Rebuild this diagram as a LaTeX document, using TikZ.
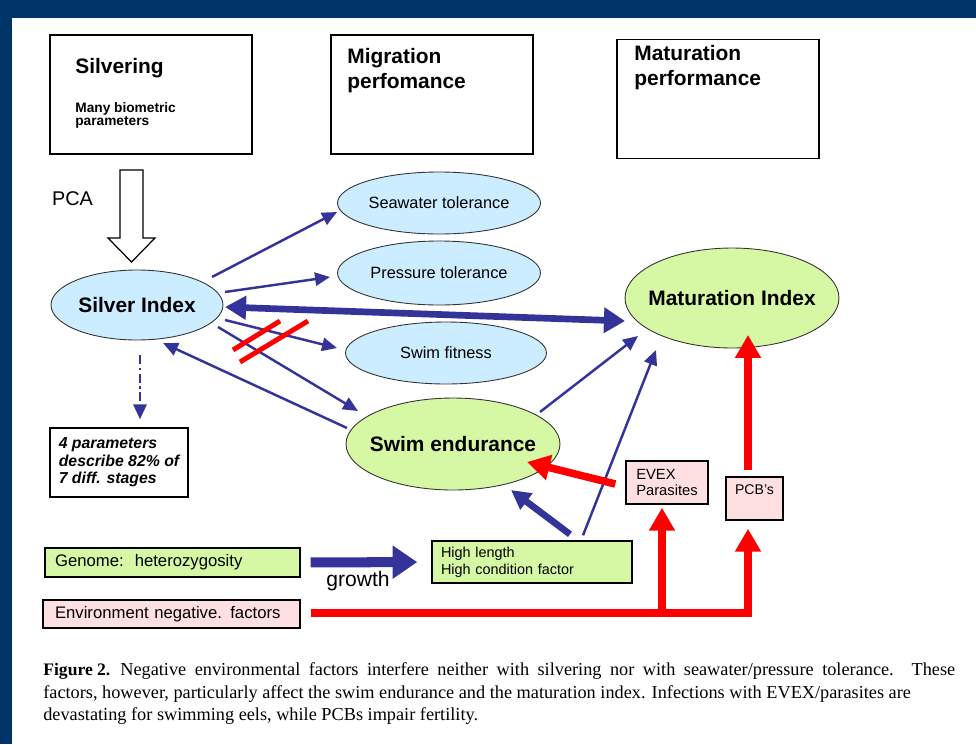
\documentclass[tikz,border=0pt]{standalone}
\usepackage{fontspec}
\setmainfont{Liberation Sans}
\newfontfamily\capfont{Liberation Serif}
\usetikzlibrary{arrows.meta,shapes.geometric,calc}
\definecolor{navy}{RGB}{0,51,102}
\definecolor{arrowblue}{RGB}{51,51,153}
\definecolor{iceblue}{RGB}{204,236,255}
\definecolor{limegreen}{RGB}{214,247,163}
\definecolor{rosepink}{RGB}{255,224,224}
\tikzset{
    topbox/.style={draw, line width=0.8pt, minimum width=4.04cm, minimum height=2.38cm, inner sep=0pt},
    headtext/.style={anchor=north west, inner sep=0pt, align=left, font=\fontsize{11.9}{14.2}\selectfont\bfseries},
    blueoval/.style={ellipse, draw=black!80, line width=0.5pt, fill=iceblue, inner sep=0pt, font=\fontsize{9.3}{11}\selectfont},
    greenoval/.style={ellipse, draw=black!80, line width=0.5pt, fill=limegreen, inner sep=0pt, font=\fontsize{11.9}{14}\selectfont\bfseries},
    factorbox/.style={draw, line width=0.8pt, inner ysep=0pt, align=left},
    captext/.style={anchor=base west, inner sep=0pt, font=\capfont\fontsize{10.4}{12}\selectfont},
    blue arrow/.style={draw=arrowblue, line width=1.4pt, -{Triangle[length=8.5pt,width=7.5pt]}},
    thick blue arrow/.style={draw=arrowblue, line width=3.8pt, -{Triangle[length=11pt,width=11pt]}},
    growth arrow/.style={draw=arrowblue, line width=5.7pt, -{Triangle[length=14pt,width=18pt]}, shorten <=5.7pt, shorten >=8pt},
    red arrow/.style={draw=red, line width=4.3pt, -{Triangle[length=13pt,width=14pt]}},
    strike/.style={draw=red, line width=2.8pt},
}
\begin{document}
\begin{tikzpicture}[x=0.02cm, y=-0.02cm]
    %draw frame
    \fill[white] (0,0) rectangle (976,744);
    \fill[navy] (0,0) rectangle (976,18);
    \fill[navy] (0,0) rectangle (12,744);
    \useasboundingbox (0,0) rectangle (976,744);
    %draw headline boxes
    \node[topbox] (silv) at (151,94.5) {};
    \node[headtext] (silvt) at (75,58) {Silvering};
    \node[anchor=north west, inner sep=0pt, align=left, font=\fontsize{7.8}{7.6}\selectfont\bfseries] (silvp) at (75,102) {Many biometric\\parameters};
    \node[topbox] (migr) at (432,94.5) {};
    \node[headtext] (migrt) at (347,48) {Migration\\perfomance};
    \node[topbox] (matu) at (718,99) {};
    \node[headtext] (matut) at (634,45) {Maturation\\performance};
    %draw pca arrow
    \node[inner sep=0pt, font=\fontsize{11.3}{13}\selectfont] (pca) at (72.5,199) {PCA};
    \draw[line width=0.7pt, fill=white] (120,170) -- (143,170) -- (143,238) -- (155,238) -- (131.5,262) -- (108,238) -- (120,238) -- cycle;
    %draw ellipses
    \node[blueoval, minimum width=3.44cm, minimum height=1.4cm, font=\fontsize{11.9}{14}\selectfont\bfseries] (si) at (137,305) {\makebox[0pt]{Silver Index}};
    \node[blueoval, minimum width=4.06cm, minimum height=1.24cm] (sea) at (439,203) {\makebox[0pt]{Seawater tolerance}};
    \node[blueoval, minimum width=4.06cm, minimum height=1.28cm] (pres) at (439,273) {\makebox[0pt]{Pressure tolerance}};
    \node[blueoval, minimum width=4.02cm, minimum height=1.24cm] (fit) at (446,353) {\makebox[0pt]{Swim fitness}};
    \node[greenoval, minimum width=4.28cm, minimum height=1.84cm] (se) at (453,444) {\makebox[0pt]{Swim endurance}};
    \node[greenoval, minimum width=4.28cm, minimum height=2cm] (mi) at (732,298) {\makebox[0pt]{Maturation Index}};
    %draw boxes
    \node[draw, line width=0.8pt, minimum width=2.76cm, minimum height=1.38cm, align=left, font=\fontsize{9}{9.9}\selectfont\bfseries\itshape] (stages) at (119,462.5) {4 parameters\\describe 82\% of\\7 diff. stages};
    \node[factorbox, fill=limegreen, text width=4.7cm, inner xsep=0.2cm, minimum height=0.58cm, font=\fontsize{9.5}{11}\selectfont] (gen) at (172.5,562.5) {Genome:\ \ heterozygosity};
    \node[factorbox, fill=rosepink, text width=4.66cm, inner xsep=0.24cm, minimum height=0.56cm, font=\fontsize{9.5}{11}\selectfont] (env) at (171.5,614) {Environment negative. factors};
    \node[factorbox, fill=limegreen, text width=3.64cm, inner xsep=0.18cm, minimum height=0.84cm, font=\fontsize{8.2}{9.6}\selectfont] (hl) at (532,562) {High length\\High condition factor};
    \node[factorbox, fill=rosepink, minimum width=1.64cm, minimum height=0.86cm, font=\fontsize{8.4}{9}\selectfont] (ev) at (667,482.5) {EVEX\\Parasites};
    \node[factorbox, fill=rosepink, minimum width=1.14cm, minimum height=0.86cm] (pcb) at (754.5,498.5) {};
    \node[inner sep=0pt, font=\fontsize{8}{9}\selectfont] (pcbt) at (754.5,490) {PCB's};
    %draw arrows from silver index
    \draw[blue arrow] ($(si.center)+(75,-28)$) -- ($(sea.center)+(-102,9)$);
    \draw[blue arrow] ($(si.center)+(88,-13)$) -- ($(pres.center)+(-109,4)$);
    \draw[blue arrow] ($(si.center)+(88,15)$) -- ($(fit.center)+(-109,-5)$);
    \draw[blue arrow] ($(si.center)+(81,22)$) -- ($(se.center)+(-95,-33)$);
    \draw[blue arrow] ($(se.center)+(-106,-16)$) -- ($(si.center)+(26,38)$);
    \draw[thick blue arrow, {Triangle[length=12pt,width=13pt]}-{Triangle[length=12pt,width=14pt]}] ($(si.center)+(88,2)$) -- ($(mi.center)+(-107,23)$);
    \draw[blue arrow, dash pattern=on 5pt off 2pt on 1.5pt off 2pt] ($(si.south)+(3,15)$) -- ($(stages.north)+(21,-8)$);
    %draw strike marks
    \draw[strike] (233,350) -- (280,321);
    \draw[strike] (240,362) -- (308,321);
    %draw arrows into maturation index
    \draw[blue arrow] ($(se.center)+(87,-32)$) -- ($(mi.center)+(-94,38)$);
    \draw[blue arrow] ($(hl.north)+(51,-5)$) -- ($(mi.center)+(-76,52)$);
    \draw[thick blue arrow] ($(hl.north)+(38,-6)$) -- ($(se.center)+(58,46)$);
    %draw growth
    \draw[growth arrow] (gen.east) -- (hl.west);
    \node[inner sep=0pt, font=\fontsize{12}{14}\selectfont] (gr) at (358,581) {growth};
    %draw red arrows
    \draw[red arrow] ($(ev.west)+(-10,1.5)$) -- ($(se.center)+(74,18)$);
    \coordinate (evfoot) at ($(ev.south)+(-5,3)$);
    \draw[red arrow] (evfoot |- env.east) -- (evfoot);
    \draw[red arrow] ($(env.east)+(10,-1)$) -| ($(pcb.south)+(-6.5,8)$);
    \draw[red arrow] ($(pcb.north)+(-6.5,-6)$) -- ($(mi.center)+(16,37)$);
    %draw caption
    \node[anchor=base west, inner sep=0pt, font=\capfont\fontsize{10}{12}\selectfont\bfseries] (fig) at (43,675) {Figure 2.};
    \node[captext] (cap1) at (120,675) {\makebox[16.7cm][s]{Negative environmental factors interfere neither with silvering nor with seawater/pressure tolerance. These}};
    \node[captext] (cap2) at (43,698) {factors, however, particularly affect the swim endurance and the maturation index. Infections with EVEX/parasites are};
    \node[captext] (cap3) at (43,720) {devastating for swimming eels, while PCBs impair fertility.};
\end{tikzpicture}
\end{document}
